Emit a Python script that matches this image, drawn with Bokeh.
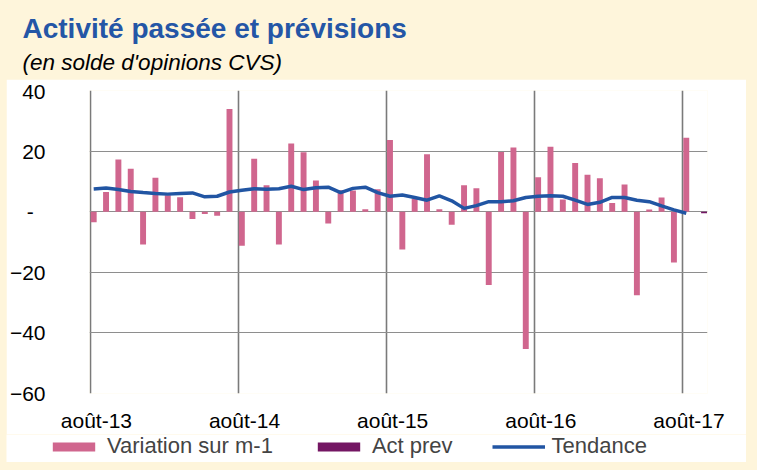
from bokeh.plotting import figure
from bokeh.layouts import column
from bokeh.models import (ColumnDataSource, FixedTicker, Range1d, Legend, LegendItem)
from bokeh.core.properties import value
from bokeh.embed import file_html
from bokeh.resources import INLINE

# ---------------- data ----------------
months = ["août-13", "sept.-13", "oct.-13", "nov.-13", "déc.-13",
          "janv.-14", "févr.-14", "mars-14", "avr.-14", "mai-14", "juin-14", "juil.-14",
          "août-14", "sept.-14", "oct.-14", "nov.-14", "déc.-14",
          "janv.-15", "févr.-15", "mars-15", "avr.-15", "mai-15", "juin-15", "juil.-15",
          "août-15", "sept.-15", "oct.-15", "nov.-15", "déc.-15",
          "janv.-16", "févr.-16", "mars-16", "avr.-16", "mai-16", "juin-16", "juil.-16",
          "août-16", "sept.-16", "oct.-16", "nov.-16", "déc.-16",
          "janv.-17", "févr.-17", "mars-17", "avr.-17", "mai-17", "juin-17", "juil.-17",
          "août-17"]

variation = [-3.5, 6.5, 17.2, 14.2, -10.8,
             11.2, 5.4, 4.8, -2.4, -0.8, -1.3, 33.9,
             -11.2, 17.5, 8.7, -10.8, 22.5,
             19.6, 10.3, -3.9, 7.1, 7.0, 0.8, 7.4,
             23.7, -12.5, 4.3, 19.0, 0.8,
             -4.3, 8.7, 7.7, -24.2, 19.7, 21.2, -45.3,
             11.4, 21.4, 4.0, 16.1, 12.2,
             11.0, 2.9, 9.0, -27.6, 0.7, 4.7, -16.8,
             24.4]

tendance = [7.5, 7.8, 7.3, 6.7, 6.3,
            6.0, 5.8, 6.0, 6.2, 4.9, 5.1, 6.5,
            7.1, 7.6, 7.4, 7.6, 8.4,
            7.3, 7.9, 8.1, 6.3, 7.7, 8.1, 6.3,
            5.1, 5.5, 4.7, 3.8, 5.2,
            3.6, 1.1, 2.0, 3.3, 3.3, 3.6, 4.7,
            5.1, 5.3, 5.1, 3.8, 2.4,
            3.1, 4.7, 4.7, 3.8, 3.3, 1.9, 0.6,
            -0.5]

act_prev_months = ["sept.-17"]
act_prev = [-0.5]

tick_labels = ["août-13", "août-14", "août-15", "août-16", "août-17"]
y_ticks = [-60, -40, -20, 0, 20, 40]

TITLE = "Activité passée et prévisions"
SUBTITLE = "(en solde d'opinions CVS)"

# ---------------- styles ----------------
CREAM = "#FEF5DB"
PINK = "#D0668E"
PURPLE = "#741663"
BLUE = "#2155A3"
TITLE_BLUE = "#2456A6"
GRID = "#8E8E8E"
FONT = "Liberation Sans"

all_months = months + act_prev_months
idx = {m: i for i, m in enumerate(all_months)}

# ---------------- title strip ----------------
pt = figure(width=757, height=79, output_backend="svg", toolbar_location=None,
            x_range=Range1d(0, 757), y_range=Range1d(79, 0), min_border=0,
            x_axis_location=None, y_axis_location=None, frame_align=False)
pt.grid.visible = False
pt.outline_line_color = None
pt.background_fill_color = CREAM
pt.border_fill_color = CREAM
pt.text(x=[22], y=[28], text=[TITLE], text_font=value(FONT), text_font_style="bold",
        text_font_size="28px", text_color=TITLE_BLUE, text_baseline="alphabetic")
pt.text(x=[22], y=[62], text=[SUBTITLE], text_font=value(FONT), text_font_style="italic",
        text_font_size="22.5px", text_color="black", text_baseline="alphabetic")

# ---------------- chart ----------------
src_var = ColumnDataSource(dict(x=[idx[m] + 0.28 for m in months], top=variation))
src_ten = ColumnDataSource(dict(x=[idx[m] + 0.28 for m in months], y=tendance))
src_act = ColumnDataSource(dict(x=[idx[m] + 0.72 for m in act_prev_months], top=act_prev))

p = figure(width=740, height=355, output_backend="svg", toolbar_location=None,
           x_range=Range1d(-0.06, 50), y_range=Range1d(-60, 40),
           min_border_left=74, min_border_right=39, min_border_top=11, min_border_bottom=41,
           margin=(0, 11, 0, 6), frame_align=False)
p.border_fill_color = "white"
p.background_fill_color = "white"
p.outline_line_color = None

p.vbar(x="x", top="top", bottom=0, width=0.48, source=src_var,
       fill_color=PINK, line_color=None)
p.vbar(x="x", top="top", bottom=0, width=0.48, source=src_act,
       fill_color=PURPLE, line_color=None)
p.line(x="x", y="y", source=src_ten, line_color=BLUE, line_width=3.5)

tick_pos = [idx[m] + 0.5 for m in tick_labels]
p.xaxis.ticker = FixedTicker(ticks=tick_pos)
p.xaxis.major_label_overrides = {t: l for t, l in zip(tick_pos, tick_labels)}
p.xaxis.axis_line_color = None
p.xaxis.major_tick_line_color = None
p.xaxis.minor_tick_line_color = None
p.xaxis.major_label_text_font = FONT
p.xaxis.major_label_text_font_size = "21px"
p.xaxis.major_label_text_color = "black"
p.xaxis.major_label_standoff = 9

p.yaxis.ticker = FixedTicker(ticks=y_ticks)
p.yaxis.major_label_overrides = {0: "-\u00a0\u00a0"}
p.yaxis.axis_line_color = None
p.yaxis.major_tick_line_color = None
p.yaxis.minor_tick_line_color = None
p.yaxis.major_label_text_font = FONT
p.yaxis.major_label_text_font_size = "21px"
p.yaxis.major_label_text_color = "black"
p.yaxis.major_label_standoff = 38

p.xgrid.ticker = FixedTicker(ticks=[idx[m] for m in tick_labels])
p.xgrid.grid_line_color = "#7A7A7A"
p.xgrid.grid_line_width = 1.6
p.ygrid.ticker = FixedTicker(ticks=y_ticks)
p.ygrid.grid_line_color = GRID
p.ygrid.grid_line_width = 1.2

# ---------------- legend strip ----------------
# legend renderers share the chart's sources; ranges keep their marks out of view
pl = figure(width=740, height=28, output_backend="svg", toolbar_location=None,
            x_range=Range1d(1000, 1001), y_range=Range1d(1000, 1001), min_border=0,
            x_axis_location=None, y_axis_location=None, margin=(0, 11, 8, 6),
            frame_align=False)
pl.grid.visible = False
pl.outline_line_color = None
pl.background_fill_color = "white"
pl.border_fill_color = "white"
l_var = pl.vbar(x="x", top="top", bottom=0, width=0.48, source=src_var,
                fill_color=PINK, line_color=None)
l_act = pl.vbar(x="x", top="top", bottom=0, width=0.48, source=src_act,
                fill_color=PURPLE, line_color=None)
l_ten = pl.line(x="x", y="y", source=src_ten, line_color=BLUE, line_width=3.5)
legend = Legend(items=[LegendItem(label="Variation sur m-1", renderers=[l_var]),
                       LegendItem(label="Act prev", renderers=[l_act]),
                       LegendItem(label="Tendance", renderers=[l_ten])],
                orientation="horizontal", location=(41, 3),
                glyph_width=53, glyph_height=11, label_standoff=7, spacing=39,
                padding=0, margin=0, border_line_color=None, background_fill_alpha=0,
                label_text_font=FONT, label_text_font_size="22px", label_height=22)
pl.add_layout(legend, "center")

layout = column(pt, p, pl, spacing=0, styles={"background-color": CREAM})

open("out.html", "w").write(file_html(layout, INLINE))
